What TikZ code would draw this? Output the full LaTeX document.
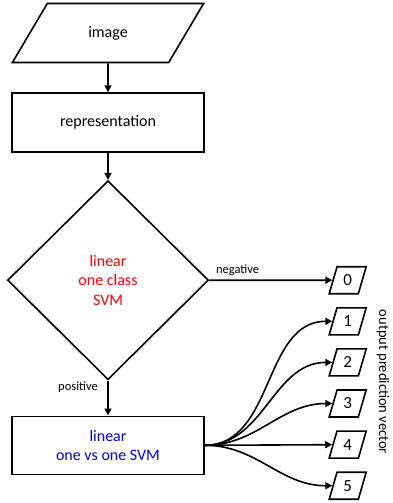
\documentclass[tikz,border=0pt]{standalone}
\usepackage{fontspec}
\setmainfont{Carlito}
\usetikzlibrary{positioning,arrows.meta,shapes.geometric}

\begin{document}
\begin{tikzpicture}[
x=1pt, y=-1pt,
>={Triangle[length=7pt,width=7pt]},
line width=1.6pt,
every node/.style={font=\fontsize{16}{19.5}\selectfont},
outbox/.style={draw, trapezium, trapezium left angle=74,
  trapezium right angle=106, trapezium stretches=true,
  minimum width=37pt, minimum height=27pt, inner sep=0pt,
  font=\fontsize{17}{20}\selectfont},
edgelabel/.style={font=\fontsize{12.5}{14}\selectfont}
]
\useasboundingbox (0,0) rectangle (392,503);

\node[draw, trapezium, trapezium left angle=57, trapezium right angle=123,
trapezium stretches=true,
minimum width=192pt,
minimum height=59pt] (img) at (108,33)
{image};

\node[draw, below=29pt of img,
minimum width=192pt,
minimum height=59pt] (rep)
{representation};

\node[draw, diamond, below=27pt of rep,
minimum width=201pt,
minimum height=199pt,
text=red, align=center] (occ)
{linear\\one class\\SVM};

\node[draw, below=35pt of occ,
minimum width=192pt,
minimum height=58pt,
text=blue, align=center] (ovo)
{linear\\one vs one SVM};

% output vector
\node[outbox, right=123pt of occ] (o0) {0};
\node[outbox, below=12.5pt of o0] (o1) {1};
\node[outbox, below=12.5pt of o1] (o2) {2};
\node[outbox, below=12.5pt of o2] (o3) {3};
\node[outbox, below=12.5pt of o3] (o4) {4};
\node[outbox, below=12.5pt of o4] (o5) {5};

\node[rotate=-90, font=\fontsize{14.5}{17}\selectfont] (vec) at (383,382)
{output prediction vector};

\draw[->] (img) -- (rep);
\draw[->] (rep) -- (occ);
\draw[->] (occ) -- node[edgelabel, pos=0.2, left=6pt] {positive} (ovo);
\draw[->] (occ) -- node[edgelabel, pos=0.23, above] {negative} (o0);

\foreach \k in {1,2,3,5}
  \draw[->] (ovo.east) to[out=0, in=180] (o\k);
\draw[->] (ovo.east) -- (o4);

\end{tikzpicture}
\end{document}
